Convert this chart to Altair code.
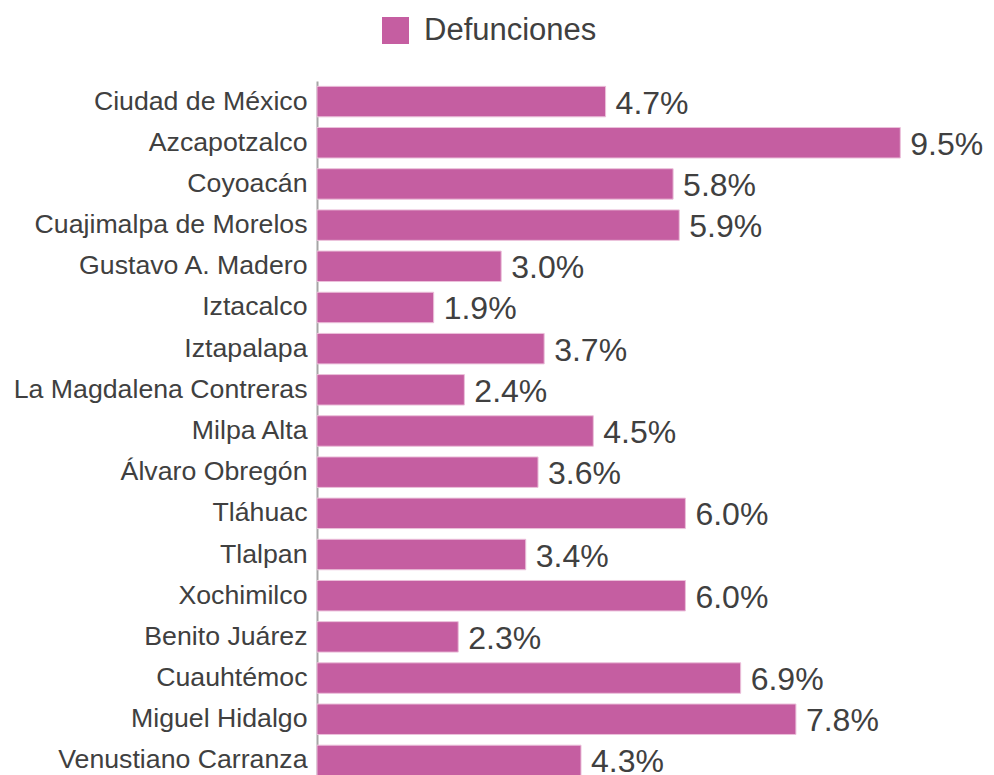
import altair as alt
import pandas as pd

alcaldias = [
    "Ciudad de México", "Azcapotzalco", "Coyoacán", "Cuajimalpa de Morelos",
    "Gustavo A. Madero", "Iztacalco", "Iztapalapa", "La Magdalena Contreras",
    "Milpa Alta", "Álvaro Obregón", "Tláhuac", "Tlalpan", "Xochimilco",
    "Benito Juárez", "Cuauhtémoc", "Miguel Hidalgo", "Venustiano Carranza",
]
defunciones = [4.7, 9.5, 5.8, 5.9, 3.0, 1.9, 3.7, 2.4, 4.5, 3.6, 6.0, 3.4, 6.0, 2.3, 6.9, 7.8, 4.3]
serie = ["Defunciones"] * len(alcaldias)

df = pd.DataFrame({"alcaldia": alcaldias, "valor": defunciones, "serie": serie})
df["etiqueta"] = df["valor"].map(lambda v: f"{v:.1f}%")

TEXT = "#404040"
PINK = "#C55EA1"

y = alt.Y(
    "alcaldia:N",
    sort=alcaldias,
    scale=alt.Scale(paddingInner=0.26, paddingOuter=0.13),
    axis=alt.Axis(
        title=None, ticks=False, labelPadding=10, labelFontSize=26.7,
        labelFont="Liberation Sans", labelColor=TEXT, domainColor="#A6A6A6",
        domainWidth=2, labelLimit=400,
    ),
)
x = alt.X("valor:Q", scale=alt.Scale(domain=[0, 10]), axis=None)

bars = alt.Chart(df).mark_bar(stroke="#EBC0DA", strokeWidth=1).encode(
    x=x, y=y,
    color=alt.Color(
        "serie:N",
        scale=alt.Scale(range=[PINK]),
        legend=alt.Legend(
            title=None, orient="none", legendX=63, legendY=-66,
            symbolType="square", symbolSize=729, symbolStrokeWidth=0,
            labelFontSize=31, labelFont="Liberation Sans", labelColor=TEXT,
            labelOffset=13, labelLimit=400,
        ),
    ),
)

labels = alt.Chart(df).mark_text(
    align="left", baseline="middle", dx=10, dy=2,
    fontSize=32, font="Liberation Sans", color=TEXT,
).encode(x=x, y=y, text="etiqueta:N")

chart = (
    (bars + labels)
    .properties(
        width=614, height=700, background="white",
        padding={"left": 5, "top": 7, "right": 0, "bottom": 0},
    )
    .configure_view(strokeOpacity=0, strokeWidth=0)
)

chart.save("out.html", embed_options={"renderer": "svg", "actions": False})
